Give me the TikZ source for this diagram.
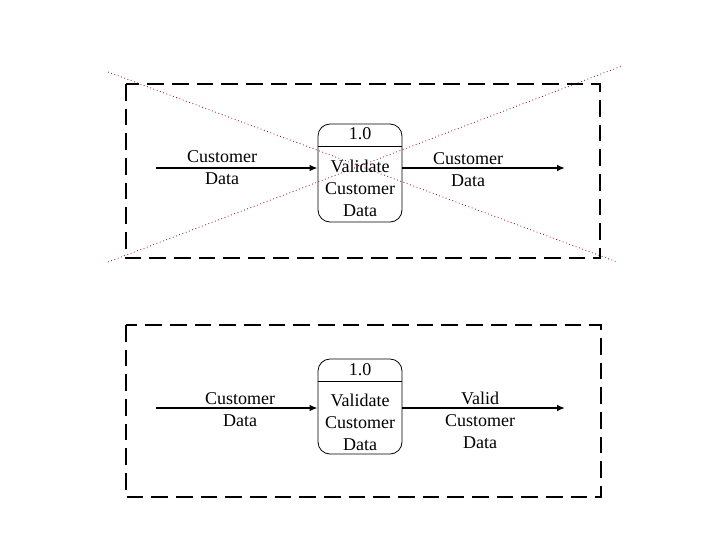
\documentclass[tikz,border=0pt]{standalone}
\usepackage{fontspec}
\setmainfont{Liberation Serif}
\usetikzlibrary{arrows.meta, calc}

\begin{document}
\begin{tikzpicture}[x=0.75pt, y=-0.75pt,
    frame/.style={draw, line width=2.2pt, dash pattern=on 12.5pt off 6pt},
    proc/.style={draw, rounded corners=9pt, minimum width=63pt, line width=0.6pt},
    flow/.style={-{Latex[length=6pt,width=5pt]}, line width=1.5pt},
    lbl/.style={align=center, inner sep=0pt, font=\fontsize{13.5}{16.5}\selectfont},
    cross/.style={draw=red!60!black, dotted, line width=0.6pt}]
    \useasboundingbox (0,0) rectangle (720,540);

    % crossed-out version
    \draw[frame] (126,84) rectangle (600,258);
    \node[proc, minimum height=73.5pt] (proc1) at (360,173) {};
    \draw ($(proc1.north west)+(0,23)$) -- ($(proc1.north east)+(0,23)$);
    \node[lbl] (num1) at (360,134) {1.0};
    \node[lbl] (name1) at (360,188) {Validate\\Customer\\Data};
    \coordinate (in1) at (156,168);
    \coordinate (out1) at (565,168);
    \draw[flow] (in1) -- (in1 -| proc1.west);
    \draw[flow] (proc1.east |- out1) -- (out1);
    \node[lbl] (inlbl1) at (222,168) {Customer\\Data};
    \node[lbl] (outlbl1) at (468,170) {Customer\\Data};
    \draw[cross] (108,72) -- (617,262);
    \draw[cross] (108,262) -- (622,66);

    % corrected version
    \draw[frame] (126,325) rectangle (601,497);
    \node[proc, minimum height=71.25pt] (proc2) at (360,406.5) {};
    \draw ($(proc2.north west)+(0,23)$) -- ($(proc2.north east)+(0,23)$);
    \node[lbl] (num2) at (360,370) {1.0};
    \node[lbl] (name2) at (360,422) {Validate\\Customer\\Data};
    \coordinate (in2) at (156,408);
    \coordinate (out2) at (565,408);
    \draw[flow] (in2) -- (in2 -| proc2.west);
    \draw[flow] (proc2.east |- out2) -- (out2);
    \node[lbl] (inlbl2) at (240,410) {Customer\\Data};
    \node[lbl] (outlbl2) at (480,420) {Valid\\Customer\\Data};
\end{tikzpicture}
\end{document}
